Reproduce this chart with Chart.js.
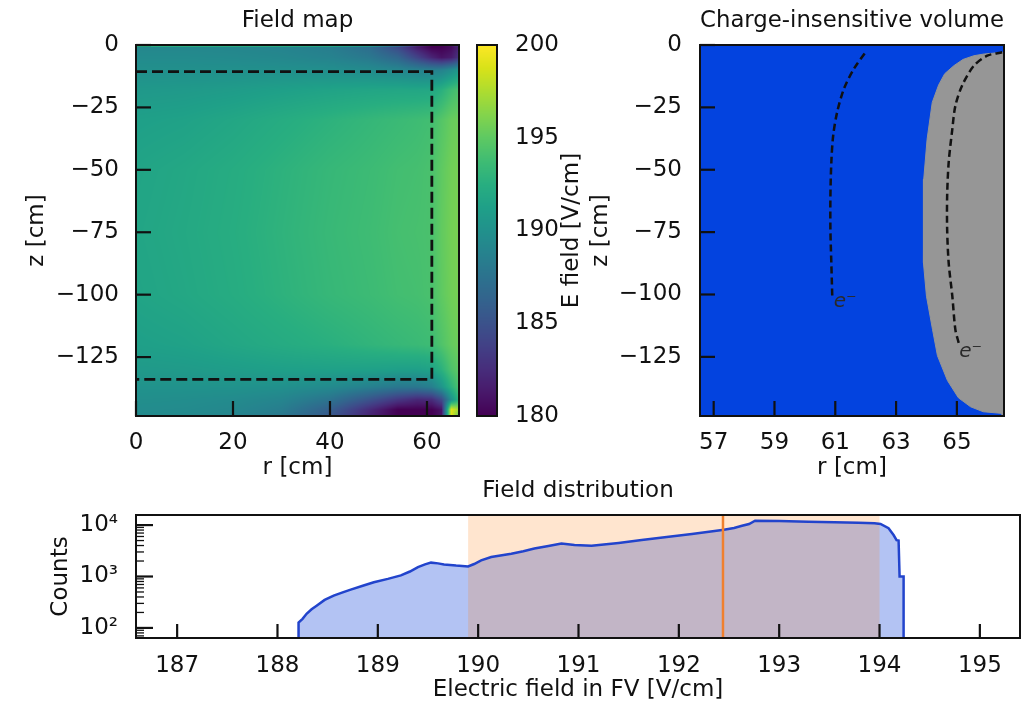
<!DOCTYPE html>
<html>
<head>
<meta charset="utf-8">
<title>Field map</title>
<script src="https://cdn.jsdelivr.net/npm/chart.js@4.4.1/dist/chart.umd.min.js"></script>
<style>
  html, body { margin: 0; padding: 0; background: #fff; }
  #page { position: relative; width: 1033px; height: 703px; overflow: hidden; }
  canvas { position: absolute; }
</style>
</head>
<body>
<div id="page">
  <canvas id="mapChart" width="470" height="480" style="left:0;top:0"></canvas>
  <canvas id="barChart" width="120" height="480" style="left:470px;top:0"></canvas>
  <canvas id="volChart" width="453" height="480" style="left:580px;top:0"></canvas>
  <canvas id="histChart" width="1033" height="223" style="left:0;top:480px"></canvas>
</div>
<script>
// ---------- field map (E in V/cm on an r-z grid) ----------
const mapR = [0, 10, 20, 30, 40, 48, 54, 58, 61, 63, 65, 66.6];
const mapZ = [0, -1, -5, -10, -18, -30, -50, -75, -100, -120, -130, -137, -142, -146, -148.6];
const mapField = [
  [197, 197, 197, 197, 196.5, 195, 190, 183, 180, 180, 181, 184],
  [189.2, 189.2, 189.1, 188.9, 188.4, 187.2, 184.5, 181.5, 180, 180, 180.5, 182],
  [189.5, 189.5, 189.4, 189.2, 188.8, 188, 186.5, 184, 182, 181, 181.5, 183],
  [189.9, 189.9, 189.9, 189.9, 189.8, 189.5, 189.1, 188.7, 188.5, 188.7, 189.6, 190.6],
  [190.6, 190.7, 190.9, 191.2, 191.5, 191.7, 191.8, 191.8, 191.9, 192.6, 193.7, 194.3],
  [191.2, 191.4, 191.8, 192.3, 192.8, 193.2, 193.5, 193.7, 193.9, 194.6, 195.3, 195.5],
  [191.6, 191.9, 192.3, 192.8, 193.3, 193.6, 193.9, 194.0, 194.2, 195.0, 195.6, 195.8],
  [191.7, 192.0, 192.4, 192.9, 193.4, 193.7, 194.0, 194.1, 194.2, 195.1, 195.7, 195.9],
  [191.6, 191.9, 192.3, 192.8, 193.3, 193.6, 193.9, 194.0, 194.2, 195.0, 195.6, 195.8],
  [191.2, 191.4, 191.8, 192.2, 192.6, 193.0, 193.3, 193.5, 193.7, 194.4, 195.2, 195.5],
  [190.7, 190.8, 191.0, 191.2, 191.3, 191.3, 191.2, 191.2, 191.5, 192.7, 194.3, 195.0],
  [190.1, 190.1, 190.1, 189.9, 189.4, 188.6, 187.9, 187.9, 188.5, 190.3, 192.8, 194.3],
  [189.8, 189.7, 189.5, 189, 187.6, 185.2, 183.2, 182.2, 182.5, 184.5, 190, 193],
  [189.6, 189.5, 189.2, 188.4, 186, 182.5, 180, 180, 180, 181, 199, 197],
  [189.5, 189.4, 189, 188, 185.5, 182, 180, 180, 180, 181, 199, 195]
];
// fiducial volume outline
const fvR = [0, 61, 61, 0];
const fvZ = [-10.7, -10.7, -133.9, -133.9];
const mapRTicks = [0, 20, 40, 60];
const zTicks = [0, -25, -50, -75, -100, -125];
const cbarTicks = [180, 185, 190, 195, 200];

// ---------- charge-insensitive volume ----------
const volRLim = [56.55, 66.55];
const volZLim = [-148.7, 0];
const insR = [66.55, 65.9, 65.56, 65.2, 64.9, 64.6, 64.4, 64.19, 64.02, 63.91, 63.89, 63.91, 64.0, 64.2, 64.36, 64.69, 65.05, 65.45, 65.87, 66.43];
const insZ = [-2.9, -3.6, -4.3, -5.8, -8.3, -11.5, -16, -23, -37.8, -53.8, -73.9, -87.3, -100.7, -114.1, -124.5, -134.5, -141.4, -145.0, -147.0, -147.6];
const drift1R = [60.90, 60.87, 60.84, 60.84, 60.87, 60.93, 61.06, 61.28, 61.61, 62.03];
const drift1Z = [-100.4, -87.3, -73.9, -60.5, -47.1, -36.4, -27.0, -17.7, -9.6, -2.3];
const drift2R = [65.06, 64.95, 64.85, 64.73, 64.68, 64.68, 64.73, 64.85, 64.95, 65.17, 65.56, 66.0, 66.49];
const drift2Z = [-119.4, -114.1, -100.7, -87.3, -73.9, -60.5, -47.1, -33.7, -24.4, -16.3, -8.3, -4.3, -2.9];
const eLabelR = [60.95, 65.08];
const eLabelZ = [-103, -123];
const volRTicks = [57, 59, 61, 63, 65];

// ---------- field distribution ----------
const histField = [188.21, 188.21, 188.25, 188.29, 188.34, 188.39, 188.47, 188.56, 188.65, 188.73, 188.85, 188.96,
  189.10, 189.23, 189.32, 189.40, 189.47, 189.53, 189.60, 189.66, 189.78, 189.90, 189.96, 190.03, 190.13, 190.33,
  190.45, 190.56, 190.70, 190.83, 190.96, 191.13, 191.40, 191.63, 191.90, 192.13, 192.30, 192.45, 192.55, 192.63,
  192.70, 192.76, 193.00, 193.29, 193.55, 193.79, 193.95, 194.01, 194.09, 194.14, 194.17, 194.19, 194.20, 194.24, 194.24];
const histCounts = [40, 127, 150, 188, 230, 270, 350, 424, 490, 556, 660, 775,
  900, 1050, 1250, 1520, 1720, 1860, 1800, 1720, 1630, 1570, 1750, 2060, 2400, 2780,
  3100, 3490, 3900, 4380, 4100, 3950, 4500, 5100, 5900, 6680, 7400, 8090, 8800, 9700,
  10500, 12200, 12000, 11600, 11350, 11100, 10900, 10500, 8700, 6400, 5100, 5000, 1000, 1000, 40];
const fvRange = [189.9, 194.0];
const meanField = 192.44;
const histTicks = [187, 188, 189, 190, 191, 192, 193, 194, 195];
const countLim = [63.7, 15700];
const countLabels = { 100: '10\u00b2', 1000: '10\u00b3', 10000: '10\u2074' };

// ---------- helpers ----------
Chart.defaults.font.family = "'DejaVu Sans', sans-serif";
Chart.defaults.font.size = 23;
Chart.defaults.color = '#111';
Chart.defaults.animation = false;

const INK = '#111';
const VIR = ['#440154', '#48186a', '#472d7b', '#424086', '#3b528b', '#33638d', '#2c728e', '#26828e', '#21918c',
  '#1fa088', '#28ae80', '#3fbc73', '#5ec962', '#84d44b', '#addc30', '#d8e219', '#fde725']
  .map(h => [1, 3, 5].map(k => parseInt(h.substr(k, 2), 16)));

function viridis(t) {
  t = Math.min(1, Math.max(0, t)) * (VIR.length - 1);
  const i = Math.min(VIR.length - 2, Math.floor(t)), f = t - i;
  return VIR[i].map((c, k) => Math.round(c + (VIR[i + 1][k] - c) * f));
}

function locate(arr, v) {
  const asc = arr[arr.length - 1] > arr[0];
  for (let i = 0; i < arr.length - 1; i++) {
    if (asc ? v <= arr[i + 1] : v >= arr[i + 1]) {
      return [i, Math.min(1, Math.max(0, (v - arr[i]) / (arr[i + 1] - arr[i])))];
    }
  }
  return [arr.length - 2, 1];
}

function fieldAt(r, z) {
  const [i, fr] = locate(mapR, r);
  const [j, fz] = locate(mapZ, z);
  const a = mapField[j], b = mapField[j + 1];
  return (a[i] * (1 - fr) + a[i + 1] * fr) * (1 - fz) + (b[i] * (1 - fr) + b[i + 1] * fr) * fz;
}

const pts = (xs, ys) => xs.map((v, i) => ({ x: v, y: ys[i] }));
const minus = v => (v < 0 ? '\u2212' + Math.abs(v) : String(v));
const fixTicks = arr => s => { s.ticks = arr.map(v => ({ value: v })); };

function makeFrame(tickSpec, bg) {
  return {
    id: 'frame',
    beforeDatasetsDraw(chart) {
      if (!bg) return;
      const { ctx, chartArea: a } = chart;
      ctx.save();
      ctx.fillStyle = bg;
      ctx.fillRect(a.left, a.top, a.right - a.left, a.bottom - a.top);
      ctx.restore();
    },
    afterDatasetsDraw(chart) {
      const { ctx, chartArea: a } = chart;
      ctx.save();
      ctx.strokeStyle = INK;
      tickSpec.forEach(([id, len, minorLen]) => {
        const s = chart.scales[id];
        s.ticks.forEach(t => {
          const minor = t.label === '' || t.label === undefined;
          const L = minor ? minorLen : len;
          if (!L) return;
          const p = s.getPixelForValue(t.value);
          ctx.lineWidth = minor ? 1.3 : 2.2;
          ctx.beginPath();
          if (s.isHorizontal()) { ctx.moveTo(p, a.bottom); ctx.lineTo(p, a.bottom - L); }
          else { ctx.moveTo(a.left, p); ctx.lineTo(a.left + L, p); }
          ctx.stroke();
        });
      });
      ctx.lineWidth = 2;
      ctx.strokeRect(a.left, a.top, a.right - a.left, a.bottom - a.top);
      ctx.restore();
    }
  };
}

function makeNotes(items) {
  return {
    id: 'notes',
    afterDraw(chart) {
      const { ctx } = chart;
      items.forEach(it => {
        ctx.save();
        ctx.font = it.font;
        ctx.fillStyle = it.color || INK;
        ctx.textAlign = it.align || 'center';
        ctx.textBaseline = 'middle';
        let px = it.px, py = it.py;
        if (it.x !== undefined) {
          px = chart.scales.x.getPixelForValue(it.x);
          py = chart.scales.y.getPixelForValue(it.y);
        }
        ctx.translate(px, py);
        if (it.rot) ctx.rotate(it.rot);
        ctx.fillText(it.text, 0, 0);
        ctx.restore();
      });
    }
  };
}

const heatPlugin = {
  id: 'heat',
  beforeDatasetsDraw(chart) {
    const { ctx, chartArea: a, scales: { x, y } } = chart;
    const w = Math.round(a.right - a.left), h = Math.round(a.bottom - a.top);
    const off = document.createElement('canvas');
    off.width = w; off.height = h;
    const octx = off.getContext('2d');
    const img = octx.createImageData(w, h);
    for (let py = 0; py < h; py++) {
      const z = y.getValueForPixel(a.top + py + 0.5);
      for (let px = 0; px < w; px++) {
        const r = x.getValueForPixel(a.left + px + 0.5);
        const c = viridis((fieldAt(r, z) - cbarTicks[0]) / (cbarTicks[cbarTicks.length - 1] - cbarTicks[0]));
        const k = (py * w + px) * 4;
        img.data[k] = c[0]; img.data[k + 1] = c[1]; img.data[k + 2] = c[2]; img.data[k + 3] = 255;
      }
    }
    octx.putImageData(img, 0, 0);
    ctx.drawImage(off, a.left, a.top);
  }
};

const cbarPlugin = {
  id: 'cbar',
  beforeDatasetsDraw(chart) {
    const { ctx, chartArea: a, scales: { y } } = chart;
    const lo = cbarTicks[0], hi = cbarTicks[cbarTicks.length - 1];
    for (let py = Math.floor(a.top); py < a.bottom; py++) {
      const c = viridis((y.getValueForPixel(py + 0.5) - lo) / (hi - lo));
      ctx.fillStyle = `rgb(${c[0]},${c[1]},${c[2]})`;
      ctx.fillRect(a.left, py, a.right - a.left, 1);
    }
  }
};

const bandPlugin = {
  id: 'band',
  afterDatasetDraw(chart, args) {
    if (args.index !== 0) return;
    const { ctx, chartArea: a, scales: { x } } = chart;
    const x0 = x.getPixelForValue(fvRange[0]), x1 = x.getPixelForValue(fvRange[1]);
    ctx.save();
    ctx.fillStyle = 'rgba(255,127,14,0.2)';
    ctx.fillRect(x0, a.top, x1 - x0, a.bottom - a.top);
    ctx.restore();
  }
};

const noGrid = { grid: { display: false }, border: { display: false } };
const titleFont = { size: 23, lineHeight: 1, weight: 'normal' };
const basePlugins = { legend: { display: false }, tooltip: { enabled: false } };

// ---------- field map ----------
new Chart(document.getElementById('mapChart'), {
  type: 'line',
  data: {
    datasets: [{
      data: pts(fvR, fvZ), borderColor: INK, borderWidth: 2.8, borderDash: [11, 5],
      pointRadius: 0, fill: false, tension: 0
    }]
  },
  options: {
    responsive: false,
    layout: { padding: { left: 0, right: 11, top: 0, bottom: 0 } },
    plugins: Object.assign({}, basePlugins, {
      title: { display: true, text: 'Field map', fullSize: false, font: titleFont, color: INK, padding: { top: 10, bottom: 12 } }
    }),
    scales: {
      x: Object.assign({}, noGrid, {
        type: 'linear', min: 0, max: 66.6,
        afterBuildTicks: fixTicks(mapRTicks),
        afterFit: s => { s.height = 64; },
        ticks: { padding: 5, autoSkip: false, maxRotation: 0 },
        title: { display: true, text: 'r [cm]', font: { size: 23, lineHeight: 1 }, padding: { top: 0, bottom: 0 } }
      }),
      y: Object.assign({}, noGrid, {
        type: 'linear', min: -148.6, max: 0,
        afterBuildTicks: fixTicks(zTicks),
        afterFit: s => { s.width = 136; },
        ticks: { padding: 9, autoSkip: false, callback: minus },
        title: { display: true, text: 'z [cm]', font: { size: 23, lineHeight: 1 }, padding: { top: 26, bottom: 0 } }
      })
    }
  },
  plugins: [heatPlugin, makeFrame([['x', 15], ['y', 15]])]
});

// ---------- colour bar ----------
new Chart(document.getElementById('barChart'), {
  type: 'line',
  data: { datasets: [] },
  options: {
    responsive: false,
    layout: { padding: { left: 7, right: 0, top: 45, bottom: 64 } },
    plugins: basePlugins,
    scales: {
      x: { type: 'linear', min: 0, max: 1, display: false },
      y: Object.assign({}, noGrid, {
        type: 'linear', position: 'right', min: 180, max: 200,
        afterBuildTicks: fixTicks(cbarTicks),
        afterFit: s => { s.width = 93; },
        ticks: { padding: 10, autoSkip: false }
      })
    }
  },
  plugins: [cbarPlugin, makeFrame([]),
    makeNotes([{ text: 'E field [V/cm]', px: 102, py: 230.5, rot: -Math.PI / 2, font: "23px 'DejaVu Sans'" }])]
});

// ---------- charge-insensitive volume ----------
const insPoly = pts(insR, insZ).concat([
  { x: volRLim[1], y: volZLim[0] },
  { x: volRLim[1], y: insZ[0] }
]);
new Chart(document.getElementById('volChart'), {
  type: 'line',
  data: {
    datasets: [
      { data: insPoly, fill: 'shape', backgroundColor: '#969696', borderColor: '#969696', borderWidth: 1, pointRadius: 0, tension: 0, order: 3 },
      { data: pts(drift1R, drift1Z), fill: false, borderColor: INK, borderWidth: 2.5, borderDash: [7, 4], pointRadius: 0, tension: 0.3, order: 1 },
      { data: pts(drift2R, drift2Z), fill: false, borderColor: INK, borderWidth: 2.5, borderDash: [7, 4], pointRadius: 0, tension: 0.3, order: 1 }
    ]
  },
  options: {
    responsive: false,
    layout: { padding: { left: 0, right: 29, top: 0, bottom: 0 } },
    plugins: Object.assign({}, basePlugins, {
      title: { display: true, text: 'Charge-insensitive volume', fullSize: false, font: titleFont, color: INK, padding: { top: 10, bottom: 12 } }
    }),
    scales: {
      x: Object.assign({}, noGrid, {
        type: 'linear', min: volRLim[0], max: volRLim[1],
        afterBuildTicks: fixTicks(volRTicks),
        afterFit: s => { s.height = 64; },
        ticks: { padding: 5, autoSkip: false, maxRotation: 0 },
        title: { display: true, text: 'r [cm]', font: { size: 23, lineHeight: 1 }, padding: { top: 0, bottom: 0 } }
      }),
      y: Object.assign({}, noGrid, {
        type: 'linear', min: volZLim[0], max: volZLim[1],
        afterBuildTicks: fixTicks(zTicks),
        afterFit: s => { s.width = 120; },
        ticks: { padding: 10, autoSkip: false, callback: minus },
        title: { display: true, text: 'z [cm]', font: { size: 23, lineHeight: 1 }, padding: { top: 10, bottom: 0 } }
      })
    }
  },
  plugins: [makeFrame([['x', 15], ['y', 15]], '#0343df'),
    makeNotes(eLabelR.map((r, i) => ({ text: 'e\u207b', x: r, y: eLabelZ[i], align: 'left', color: '#2a2a2a', font: "italic 20px 'DejaVu Sans'" })))]
});

// ---------- field distribution ----------
const countTicks = [];
[10, 100, 1000, 10000].forEach(d => { for (let m = 1; m < 10; m++) countTicks.push(m * d); });
const histPts = pts(histField, histCounts);
new Chart(document.getElementById('histChart'), {
  type: 'line',
  data: {
    datasets: [
      { data: histPts, fill: 'start', backgroundColor: 'rgba(65,105,225,0.4)', borderColor: 'transparent', borderWidth: 0, pointRadius: 0, tension: 0, order: 3 },
      { data: histPts, fill: false, borderColor: '#2244cc', borderWidth: 2.5, pointRadius: 0, tension: 0, order: 2 },
      { data: [{ x: meanField, y: countLim[0] }, { x: meanField, y: countLim[1] }], fill: false, borderColor: '#f0802e', borderWidth: 2.5, pointRadius: 0, order: 1 }
    ]
  },
  options: {
    responsive: false,
    layout: { padding: { left: 0, right: 13, top: 0, bottom: 0 } },
    plugins: Object.assign({}, basePlugins, {
      title: { display: true, text: 'Field distribution', fullSize: false, font: titleFont, color: INK, padding: { top: 0, bottom: 12 } }
    }),
    scales: {
      x: Object.assign({}, noGrid, {
        type: 'linear', min: 186.59, max: 195.4,
        afterBuildTicks: fixTicks(histTicks),
        afterFit: s => { s.height = 65; },
        ticks: { padding: 6, autoSkip: false, maxRotation: 0 },
        title: { display: true, text: 'Electric field in FV [V/cm]', font: { size: 23, lineHeight: 1 }, padding: { top: 0, bottom: 1 } }
      }),
      y: Object.assign({}, noGrid, {
        type: 'logarithmic', min: countLim[0], max: countLim[1],
        afterBuildTicks: fixTicks(countTicks.filter(v => v >= countLim[0] && v <= countLim[1])),
        afterFit: s => { s.width = 136; },
        ticks: { padding: 10, autoSkip: false, callback: v => countLabels[v] || '' },
        title: { display: true, text: 'Counts', font: { size: 23, lineHeight: 1 }, padding: { top: 50, bottom: 0 } }
      })
    }
  },
  plugins: [bandPlugin, makeFrame([['x', 14], ['y', 17, 8]])]
});
</script>
</body>
</html>
